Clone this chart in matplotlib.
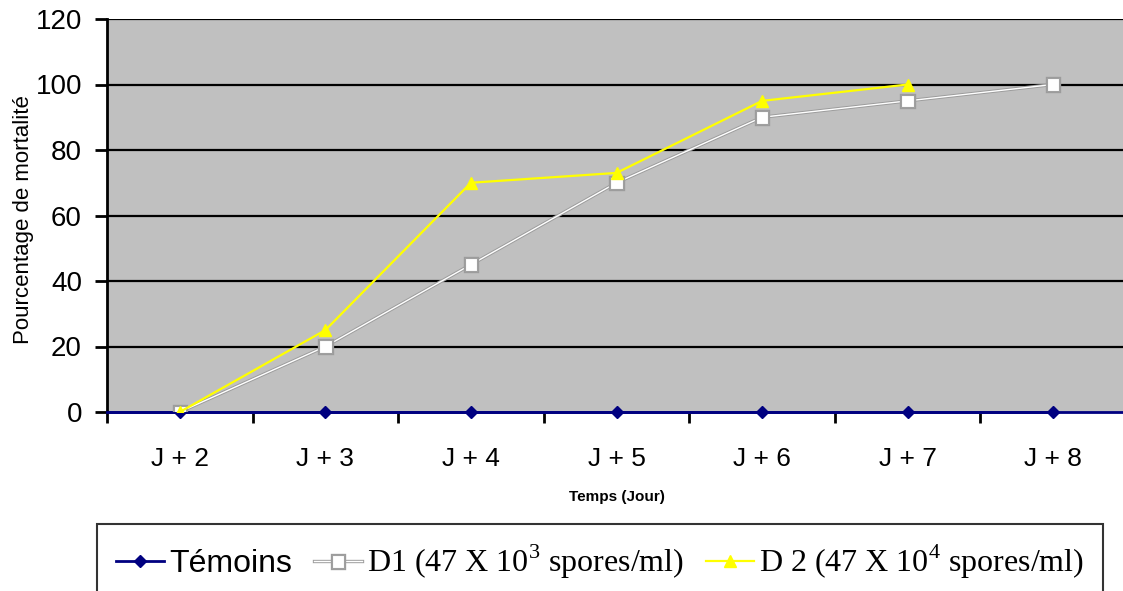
import matplotlib
matplotlib.use("Agg")
import matplotlib.pyplot as plt
import matplotlib.patheffects as pe
import numpy as np

categories = ["J + 2", "J + 3", "J + 4", "J + 5", "J + 6", "J + 7", "J + 8"]
temoins = [0, 0, 0, 0, 0, 0, 0]
d1 = [0, 20, 45, 70, 90, 95, 100]
d2 = [0, 25, 70, 73, 95, 100, np.nan]
yticks = [0, 20, 40, 60, 80, 100, 120]

plt.rcParams['font.family'] = ['Liberation Sans', 'DejaVu Sans']
plt.rcParams['mathtext.fontset'] = 'custom'
plt.rcParams['mathtext.rm'] = 'Liberation Serif'

W, H = 1123, 591
fig = plt.figure(figsize=(W/100, H/100), dpi=100)
left, right, top, bottom = 107, 1126, 19, 412
ax = fig.add_axes([left/W, 1 - bottom/H, (right-left)/W, (bottom-top)/H])
ax.set_facecolor('#C0C0C0')
x = np.arange(len(categories))

for yv in yticks[1:]:
    ax.axhline(yv, color='black', lw=1.6, zorder=1)

ax.plot(x, d1, color='white', lw=1.0, marker='s', markersize=9,
        markerfacecolor='white', markeredgecolor='#a0a0a0', markeredgewidth=0.8, zorder=3,
        path_effects=[pe.Stroke(linewidth=2.4, foreground='#9c9c9c'), pe.Normal()],
        label=r'D1 (47 X 10$^{3}$ spores/ml)')
ax.plot(x, d2, color='#FFFF00', lw=1.6, marker='^', markersize=9,
        markerfacecolor='#FFFF00', markeredgecolor='#FFFF00', zorder=4,
        label=r'D 2 (47 X 10$^{4}$ spores/ml)')
ax.plot(x, temoins, color='#000080', lw=2, marker='D', markersize=6, zorder=2,
        label='Témoins', clip_on=False)
ax.plot([-0.5, 0], [0, 0], color='#000080', lw=2, zorder=2, clip_on=False)

ax.set_xlim(-0.5, 6.5)
ax.set_ylim(0, 120)
ax.set_yticks(yticks)
ax.set_yticklabels([str(v) for v in yticks], fontsize=20)
ax.set_xticks(x)
ax.set_xticklabels(categories, fontsize=19)
ax.set_xticks(np.arange(-0.5, 7, 1), minor=True)
ax.tick_params(axis='x', which='major', length=0, pad=25)
ax.tick_params(axis='x', which='minor', length=8, width=2, direction='out')
ax.tick_params(axis='y', length=9, width=2, direction='out', pad=9)
for s in ['top', 'right']:
    ax.spines[s].set_visible(False)
ax.spines['left'].set_linewidth(2)
ax.spines['bottom'].set_linewidth(2)
ax.spines['bottom'].set_color('#000080')

ax.set_ylabel('Pourcentage de mortalité', fontsize=16)
ax.yaxis.set_label_coords((34 - left) / (right - left), 0.49)
ax.set_xlabel('Temps (Jour)', fontsize=11, fontweight='bold', labelpad=14)

handles, labels = ax.get_legend_handles_labels()
order = [2, 0, 1]
leg = fig.legend([handles[i] for i in order], [labels[i] for i in order],
                 loc='upper left', bbox_to_anchor=(97/W, 1 - 524/H), ncol=3,
                 frameon=True, fancybox=False, edgecolor='black', fontsize=23,
                 handlelength=1.5, handletextpad=0.15, columnspacing=0.7,
                 borderpad=0.6, borderaxespad=0)
leg.get_frame().set_linewidth(1.5)
for t in leg.get_texts()[1:]:
    t.set_family('Liberation Serif')

fig.savefig('out.png', dpi=100)
